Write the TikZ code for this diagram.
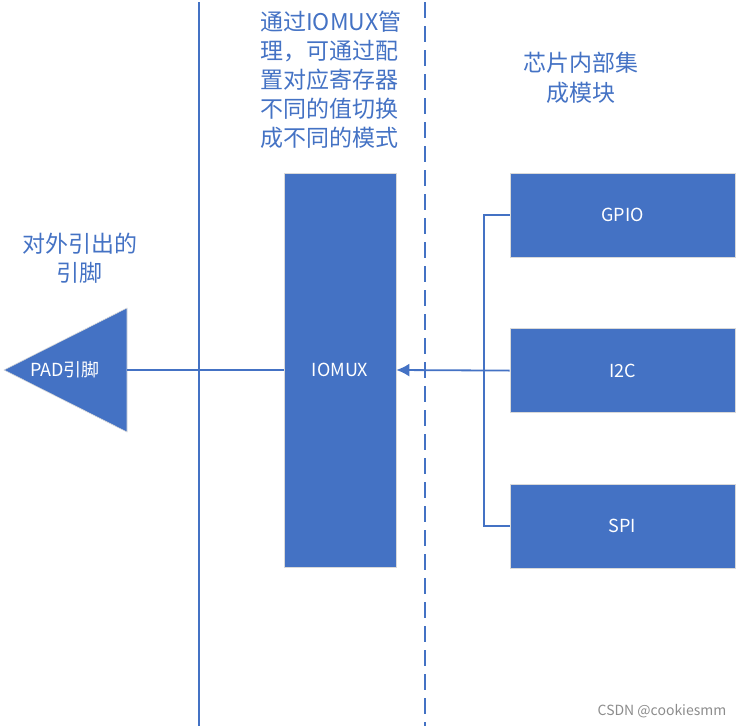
\documentclass[tikz,border=0pt]{standalone}
\usepackage{fontspec}
\setmainfont{Noto Sans CJK SC}
\usetikzlibrary{arrows.meta,positioning}
\definecolor{ppblue}{HTML}{4472C4}
\tikzset{
  blk/.style={fill=ppblue,draw=black!15,line width=0.6pt,text=white,inner sep=0pt,font=\fontsize{18}{22}\selectfont},
  note/.style={text=ppblue,inner sep=0pt,font=\fontsize{23}{29}\selectfont},
  wire/.style={ppblue,line width=1.8pt}
}

\begin{document}
\begin{tikzpicture}[x=1pt,y=-1pt,>=Latex]
  \useasboundingbox (0,0) rectangle (737,726);
  \draw[wire] (199,2) -- (199,726);
  \draw[wire,dash pattern=on 16pt off 8pt] (425,2) -- (425,726);
  \fill[ppblue,draw=black!15,line width=0.6pt] (4,370) -- (127,308) -- (127,432) -- cycle;
  \coordinate (padbase) at (127,370);
  \node[text=white,font=\fontsize{18}{22}\selectfont] (pad) at (65,370) {PAD引脚};
  \node[blk,minimum width=112pt,minimum height=394pt] (iomux) at (340,370) {IOMUX};
  \node[blk,minimum width=225pt,minimum height=84pt] (gpio) at (622.5,215) {GPIO};
  \node[blk,minimum width=225pt,minimum height=84pt,below=71pt of gpio] (i2c) {I2C};
  \node[blk,minimum width=225pt,minimum height=84pt,below=71pt of i2c] (spi) {SPI};
  \node[note,align=center] (outnote) at (80,258) {对外引出的\\引脚};
  \node[note,align=left,anchor=west] (muxnote) at (260,80) {通过IOMUX管\\理，可通过配\\置对应寄存器\\不同的值切换\\成不同的模式};
  \node[note,align=center,font=\fontsize{23}{30}\selectfont] (chipnote) at (581,78) {芯片内部集\\成模块};
  \draw[wire] (padbase) -- (iomux.west);
  \draw[wire,-{Latex[length=13pt,width=13pt]}] (i2c.west) -- (iomux.east);
  \draw[wire] (gpio.west) -- ++(-26,0) |- (spi.west);
  \node[text=black!45,font=\fontsize{14}{16}\selectfont] (mark) at (662,711) {CSDN @cookiesmm};
\end{tikzpicture}
\end{document}
